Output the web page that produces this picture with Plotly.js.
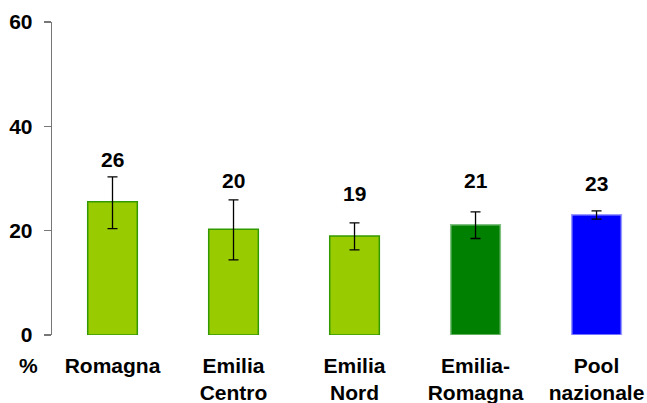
<!DOCTYPE html>
<html>
<head>
<meta charset="utf-8">
<script src="https://cdn.plot.ly/plotly-3.0.1.min.js"></script>
<style>html,body{margin:0;padding:0;background:#fff;}#chart{width:647px;height:403px;}</style>
</head>
<body>
<div id="chart"></div>
<script>
const categories = ["Romagna", "Emilia<br>Centro", "Emilia<br>Nord", "Emilia-<br>Romagna", "Pool<br>nazionale"];
const values = [25.55, 20.26, 18.98, 21.14, 23.06];
const valueLabels = ["26", "20", "19", "21", "23"];
const ciUpper = [30.3, 25.9, 21.5, 23.6, 23.8];
const ciLower = [20.4, 14.4, 16.3, 18.5, 22.2];
const labelHeights = [33.7, 29.7, 27.2, 29.7, 29.1];
const yTicks = [0, 20, 40, 60];

const fillColors = ["#99cc00", "#99cc00", "#99cc00", "#008000", "#0000ff"];
const lineColors = ["#339900", "#339900", "#339900", "#80c080", "#9999ff"];

const xIdx = categories.map((_, i) => i);
const font = {family: "Liberation Sans, Arial, sans-serif", size: 21, color: "#000", weight: 700};

const trace = {
  type: "bar",
  x: xIdx,
  y: values,
  width: 0.41,
  marker: {color: fillColors, line: {color: lineColors, width: 1.5}},
  error_y: {
    type: "data", symmetric: false,
    array: values.map((v, i) => ciUpper[i] - v),
    arrayminus: values.map((v, i) => v - ciLower[i]),
    color: "#000", thickness: 1.3, width: 5
  },
  hoverinfo: "none"
};

const annotations = xIdx.map(i => ({
  x: i, y: labelHeights[i], xref: "x", yref: "y",
  text: valueLabels[i], showarrow: false, font: font,
  xanchor: "center", yanchor: "middle"
}));
annotations.push({
  xref: "paper", yref: "paper", x: -0.0403, xanchor: "center",
  y: -0.099, yanchor: "middle", text: "%", showarrow: false, font: font
});

const layout = {
  width: 647, height: 403,
  margin: {l: 52, r: 0, t: 22, b: 68},
  paper_bgcolor: "#fff", plot_bgcolor: "#fff",
  showlegend: false,
  font: font,
  xaxis: {
    range: [-0.5, 4.417],
    tickvals: xIdx, ticktext: categories,
    showline: false, showgrid: false, zeroline: false, ticks: "",
    tickfont: font,
    ticklabelstandoff: 16, fixedrange: true
  },
  yaxis: {
    range: [0, 60], tickvals: yTicks, ticktext: yTicks.map(String),
    showline: true, linecolor: "#777", linewidth: 1.3,
    ticks: "outside", ticklen: 7, tickcolor: "#777", tickwidth: 1.3,
    showgrid: false, zeroline: false,
    tickfont: font, ticklabelstandoff: 7, fixedrange: true
  },
  annotations: annotations
};

Plotly.newPlot("chart", [trace], layout, {displayModeBar: false, staticPlot: true});
</script>
</body>
</html>
